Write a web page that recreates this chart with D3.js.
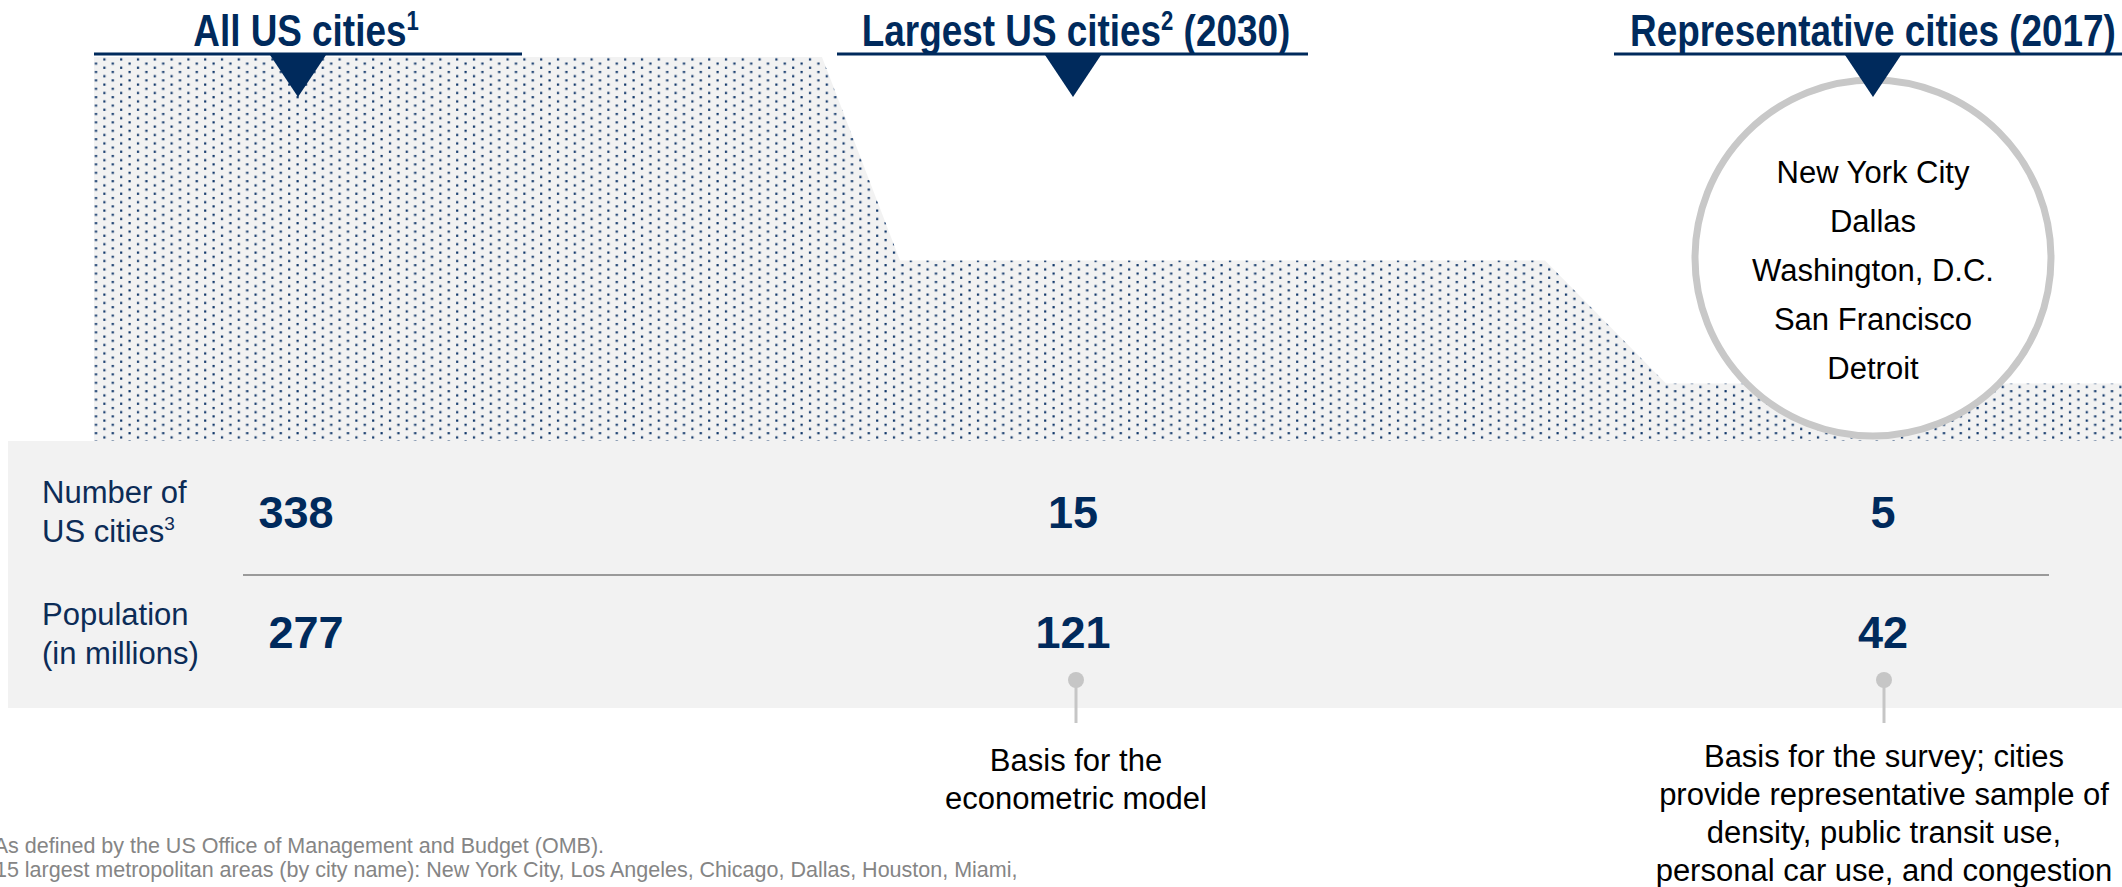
<!DOCTYPE html>
<html>
<head>
<meta charset="utf-8">
<script src="https://cdn.jsdelivr.net/npm/d3@7"></script>
<style>
  body { margin: 0; background: #fff; }
  svg { display: block; }
</style>
</head>
<body>
<svg id="chart"></svg>
<script>
// stages of the city selection funnel
var stages = ["All US cities", "Largest US cities", "Representative cities"];
var stageTitles = [
    ["All US cities", "1", ""],
    ["Largest US cities", "2", " (2030)"],
    ["Representative cities (2017)", "", ""]
];
var funnelShare = [100, 47, 15];   // relative height of the dotted funnel
var numberOfCities = [338, 15, 5];
var population = [277, 121, 42];
var rowLabels = [["Number of", "US cities", "3"], ["Population", "(in millions)", ""]];
var repCities = ["New York City", "Dallas", "Washington, D.C.", "San Francisco", "Detroit"];
var notes = [
    null,
    ["Basis for the", "econometric model"],
    ["Basis for the survey; cities", "provide representative sample of", "density, public transit use,", "personal car use, and congestion"]
];
var footnotes = [
    "1 As defined by the US Office of Management and Budget (OMB).",
    "2 15 largest metropolitan areas (by city name): New York City, Los Angeles, Chicago, Dallas, Houston, Miami,"
];

var W = 2122, H = 887;
var navy = "#002a5c", grey = "#f2f2f2", pin = "#c6c6c6";
var sans = "'Liberation Sans', Arial, sans-serif";

var svg = d3.select("#chart").attr("width", W).attr("height", H);

var colX = d3.scaleOrdinal().domain(stages).range([298, 1073, 1873]);
var numX = d3.scaleOrdinal().domain(stages).range([300, 1073, 1883]);
var y = d3.scaleLinear().domain([0, 100]).range([441, 57]);

// dot pattern
var defs = svg.append("defs");
var pat = defs.append("pattern")
    .attr("id", "dots")
    .attr("patternUnits", "userSpaceOnUse")
    .attr("x", 2.5).attr("y", 3.7)
    .attr("width", 16.8).attr("height", 8.4);
pat.append("rect").attr("width", 16.8).attr("height", 8.4).attr("fill", grey);
pat.append("rect").attr("x", 0).attr("y", 4.2).attr("width", 2.2).attr("height", 2.2).attr("fill", "#12386a");
pat.append("rect").attr("x", 8.4).attr("y", 0).attr("width", 2.2).attr("height", 2.2).attr("fill", "#12386a");

// funnel outline: flat top per stage, sloped step down to the next
var slopeStart = [822, 1545], slopeEnd = [900, 1666];
var pts = [[94, y(funnelShare[0])]];
funnelShare.forEach(function(v, i) {
    if (i > 0) pts.push([slopeEnd[i - 1], y(v)]);
    if (i < funnelShare.length - 1) pts.push([slopeStart[i], y(v)]);
});
pts.push([W, y(funnelShare[funnelShare.length - 1])]);
pts.push([W, y(0)]);
pts.push([94, y(0)]);

svg.append("path")
    .attr("d", d3.line()(pts) + "Z")
    .attr("fill", "url(#dots)");

// grey table band
svg.append("rect")
    .attr("x", 8).attr("y", 441)
    .attr("width", W - 8).attr("height", 267)
    .attr("fill", grey);

svg.append("line")
    .attr("x1", 243).attr("x2", 2049)
    .attr("y1", 575).attr("y2", 575)
    .attr("stroke", "#9a9a9a").attr("stroke-width", 2);

// circle with representative cities
svg.append("circle")
    .attr("cx", colX(stages[2])).attr("cy", 258).attr("r", 178)
    .attr("fill", "#fff").attr("stroke", "#c8c8c8").attr("stroke-width", 7);

svg.append("g").selectAll("text")
    .data(repCities)
    .join("text")
    .attr("x", colX(stages[2]))
    .attr("y", function(d, i) { return 183 + i * 49; })
    .attr("text-anchor", "middle")
    .attr("font-family", sans).attr("font-size", 31)
    .attr("fill", "#000")
    .text(function(d) { return d; });

// titles, underlines and pointers
var underline = [[94, 522], [837, 1308], [1614, W]];
var heads = svg.append("g").selectAll("g")
    .data(stages)
    .join("g");

heads.append("line")
    .attr("x1", function(d, i) { return underline[i][0]; })
    .attr("x2", function(d, i) { return underline[i][1]; })
    .attr("y1", 54).attr("y2", 54)
    .attr("stroke", navy).attr("stroke-width", 3);

heads.append("path")
    .attr("d", function(d) {
        var cx = colX(d);
        return "M" + (cx - 28) + ",55L" + (cx + 28) + ",55L" + cx + ",97Z";
    })
    .attr("fill", navy);

// no narrow font installed, so squeeze the bold sans horizontally
var titleX = [306, 1076, 1873];
var tt = heads.append("g")
    .attr("transform", function(d, i) { return "translate(" + titleX[i] + ",46) scale(0.82,1)"; })
    .append("text")
    .attr("text-anchor", "middle")
    .attr("font-family", sans).attr("font-weight", "bold")
    .attr("font-size", 45)
    .attr("fill", navy);
tt.append("tspan").text(function(d, i) { return stageTitles[i][0]; });
tt.append("tspan")
    .attr("font-size", 27).attr("dy", -16)
    .text(function(d, i) { return stageTitles[i][1]; });
tt.append("tspan")
    .attr("dy", 16)
    .text(function(d, i) { return stageTitles[i][2]; });

// row labels
rowLabels.forEach(function(lab, r) {
    var base = r === 0 ? 503 : 625;
    svg.append("text")
        .attr("x", 42).attr("y", base)
        .attr("font-family", sans).attr("font-size", 31)
        .attr("fill", "#0c2c57")
        .text(lab[0]);
    var t2 = svg.append("text")
        .attr("x", 42).attr("y", base + 39)
        .attr("font-family", sans).attr("font-size", 31)
        .attr("fill", "#0c2c57");
    t2.append("tspan").text(lab[1]);
    t2.append("tspan").attr("font-size", 19).attr("dy", -12).text(lab[2]);
});

// values
[numberOfCities, population].forEach(function(vals, r) {
    svg.append("g").selectAll("text")
        .data(vals)
        .join("text")
        .attr("x", function(d, i) { return numX(stages[i]) + (r === 1 && i === 0 ? 6 : 0) - (r === 0 && i === 0 ? 4 : 0); })
        .attr("y", r === 0 ? 528 : 648)
        .attr("text-anchor", "middle")
        .attr("font-family", sans).attr("font-weight", "bold")
        .attr("font-size", 45)
        .attr("fill", navy)
        .text(function(d) { return d; });
});

// pins and notes
var noteX = [0, 1076, 1884];
notes.forEach(function(lines, i) {
    if (!lines) return;
    var x = noteX[i];
    svg.append("line")
        .attr("x1", x).attr("x2", x)
        .attr("y1", 680).attr("y2", 723)
        .attr("stroke", pin).attr("stroke-width", 3);
    svg.append("circle")
        .attr("cx", x).attr("cy", 680).attr("r", 8)
        .attr("fill", pin);
    var startY = lines.length > 2 ? 767 : 771;
    svg.append("g").selectAll("text")
        .data(lines)
        .join("text")
        .attr("x", x)
        .attr("y", function(d, j) { return startY + j * 38; })
        .attr("text-anchor", "middle")
        .attr("font-family", sans).attr("font-size", 31)
        .attr("fill", "#000")
        .text(function(d) { return d; });
});

// footnotes (number runs off the left edge)
svg.append("g").selectAll("text")
    .data(footnotes)
    .join("text")
    .attr("x", -23)
    .attr("y", function(d, i) { return 853 + i * 24; })
    .attr("font-family", sans).attr("font-size", 21.5)
    .attr("fill", "#858585")
    .text(function(d) { return d; });
</script>
</body>
</html>
